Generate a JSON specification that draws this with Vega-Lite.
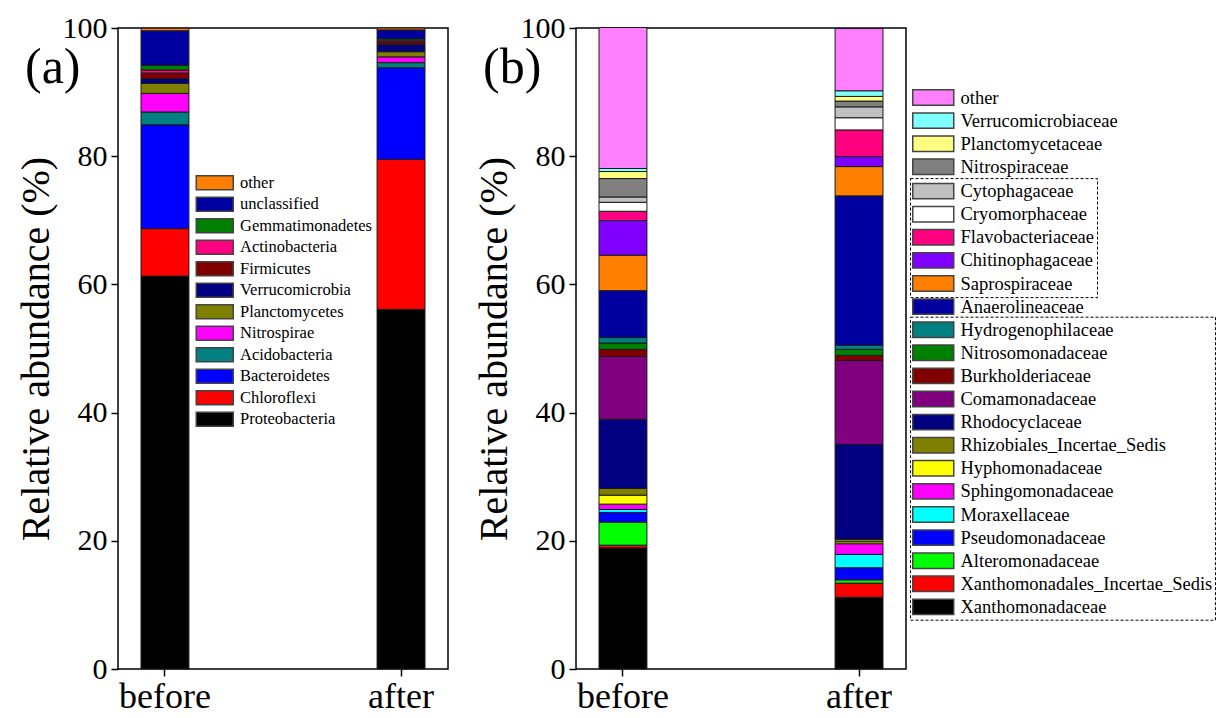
{
  "$schema": "https://vega.github.io/schema/vega-lite/v6.json",
  "background": "white",
  "padding": {"left": 15, "top": 12, "right": 2, "bottom": 2},
  "datasets": {
    "phyla": [
      {"sample": "before", "taxon": "Proteobacteria", "rank": 1, "value": 61.3},
      {"sample": "before", "taxon": "Chloroflexi", "rank": 2, "value": 7.4},
      {"sample": "before", "taxon": "Bacteroidetes", "rank": 3, "value": 16.2},
      {"sample": "before", "taxon": "Acidobacteria", "rank": 4, "value": 2.0},
      {"sample": "before", "taxon": "Nitrospirae", "rank": 5, "value": 2.9},
      {"sample": "before", "taxon": "Planctomycetes", "rank": 6, "value": 1.56},
      {"sample": "before", "taxon": "Verrucomicrobia", "rank": 7, "value": 0.73},
      {"sample": "before", "taxon": "Firmicutes", "rank": 8, "value": 0.88},
      {"sample": "before", "taxon": "Actinobacteria", "rank": 9, "value": 0.47},
      {"sample": "before", "taxon": "Gemmatimonadetes", "rank": 10, "value": 0.73},
      {"sample": "before", "taxon": "unclassified", "rank": 11, "value": 5.4},
      {"sample": "before", "taxon": "other", "rank": 12, "value": 0.4},
      {"sample": "after", "taxon": "Proteobacteria", "rank": 1, "value": 56.1},
      {"sample": "after", "taxon": "Chloroflexi", "rank": 2, "value": 23.4},
      {"sample": "after", "taxon": "Bacteroidetes", "rank": 3, "value": 14.3},
      {"sample": "after", "taxon": "Acidobacteria", "rank": 4, "value": 0.8},
      {"sample": "after", "taxon": "Nitrospirae", "rank": 5, "value": 0.9},
      {"sample": "after", "taxon": "Planctomycetes", "rank": 6, "value": 0.8},
      {"sample": "after", "taxon": "Verrucomicrobia", "rank": 7, "value": 1.1},
      {"sample": "after", "taxon": "Firmicutes", "rank": 8, "value": 0.4},
      {"sample": "after", "taxon": "Actinobacteria", "rank": 9, "value": 0.2},
      {"sample": "after", "taxon": "Gemmatimonadetes", "rank": 10, "value": 0.3},
      {"sample": "after", "taxon": "unclassified", "rank": 11, "value": 1.4},
      {"sample": "after", "taxon": "other", "rank": 12, "value": 0.3}
    ],
    "families": [
      {"sample": "before", "taxon": "Xanthomonadaceae", "grp": 4, "rank": 1, "value": 18.9},
      {"sample": "before", "taxon": "Xanthomonadales_Incertae_Sedis", "grp": 4, "rank": 2, "value": 0.42},
      {"sample": "before", "taxon": "Alteromonadaceae", "grp": 4, "rank": 3, "value": 3.6},
      {"sample": "before", "taxon": "Pseudomonadaceae", "grp": 4, "rank": 4, "value": 1.5},
      {"sample": "before", "taxon": "Moraxellaceae", "grp": 4, "rank": 5, "value": 0.47},
      {"sample": "before", "taxon": "Sphingomonadaceae", "grp": 4, "rank": 6, "value": 0.83},
      {"sample": "before", "taxon": "Hyphomonadaceae", "grp": 4, "rank": 7, "value": 1.4},
      {"sample": "before", "taxon": "Rhizobiales_Incertae_Sedis", "grp": 4, "rank": 8, "value": 1.04},
      {"sample": "before", "taxon": "Rhodocyclaceae", "grp": 4, "rank": 9, "value": 10.8},
      {"sample": "before", "taxon": "Comamonadaceae", "grp": 4, "rank": 10, "value": 9.8},
      {"sample": "before", "taxon": "Burkholderiaceae", "grp": 4, "rank": 11, "value": 1.1},
      {"sample": "before", "taxon": "Nitrosomonadaceae", "grp": 4, "rank": 12, "value": 1.0},
      {"sample": "before", "taxon": "Hydrogenophilaceae", "grp": 4, "rank": 13, "value": 0.83},
      {"sample": "before", "taxon": "Anaerolineaceae", "grp": 3, "rank": 14, "value": 7.3},
      {"sample": "before", "taxon": "Saprospiraceae", "grp": 2, "rank": 15, "value": 5.57},
      {"sample": "before", "taxon": "Chitinophagaceae", "grp": 2, "rank": 16, "value": 5.4},
      {"sample": "before", "taxon": "Flavobacteriaceae", "grp": 2, "rank": 17, "value": 1.45},
      {"sample": "before", "taxon": "Cryomorphaceae", "grp": 2, "rank": 18, "value": 1.4},
      {"sample": "before", "taxon": "Cytophagaceae", "grp": 2, "rank": 19, "value": 0.8},
      {"sample": "before", "taxon": "Nitrospiraceae", "grp": 1, "rank": 20, "value": 2.9},
      {"sample": "before", "taxon": "Planctomycetaceae", "grp": 1, "rank": 21, "value": 1.1},
      {"sample": "before", "taxon": "Verrucomicrobiaceae", "grp": 1, "rank": 22, "value": 0.47},
      {"sample": "before", "taxon": "other", "grp": 1, "rank": 23, "value": 22.0},
      {"sample": "after", "taxon": "Xanthomonadaceae", "grp": 4, "rank": 1, "value": 11.2},
      {"sample": "after", "taxon": "Xanthomonadales_Incertae_Sedis", "grp": 4, "rank": 2, "value": 2.2},
      {"sample": "after", "taxon": "Alteromonadaceae", "grp": 4, "rank": 3, "value": 0.5},
      {"sample": "after", "taxon": "Pseudomonadaceae", "grp": 4, "rank": 4, "value": 1.9},
      {"sample": "after", "taxon": "Moraxellaceae", "grp": 4, "rank": 5, "value": 2.08},
      {"sample": "after", "taxon": "Sphingomonadaceae", "grp": 4, "rank": 6, "value": 1.66},
      {"sample": "after", "taxon": "Hyphomonadaceae", "grp": 4, "rank": 7, "value": 0.3},
      {"sample": "after", "taxon": "Rhizobiales_Incertae_Sedis", "grp": 4, "rank": 8, "value": 0.4},
      {"sample": "after", "taxon": "Rhodocyclaceae", "grp": 4, "rank": 9, "value": 14.8},
      {"sample": "after", "taxon": "Comamonadaceae", "grp": 4, "rank": 10, "value": 13.1},
      {"sample": "after", "taxon": "Burkholderiaceae", "grp": 4, "rank": 11, "value": 0.78},
      {"sample": "after", "taxon": "Nitrosomonadaceae", "grp": 4, "rank": 12, "value": 0.94},
      {"sample": "after", "taxon": "Hydrogenophilaceae", "grp": 4, "rank": 13, "value": 0.62},
      {"sample": "after", "taxon": "Anaerolineaceae", "grp": 3, "rank": 14, "value": 23.3},
      {"sample": "after", "taxon": "Saprospiraceae", "grp": 2, "rank": 15, "value": 4.6},
      {"sample": "after", "taxon": "Chitinophagaceae", "grp": 2, "rank": 16, "value": 1.56},
      {"sample": "after", "taxon": "Flavobacteriaceae", "grp": 2, "rank": 17, "value": 4.16},
      {"sample": "after", "taxon": "Cryomorphaceae", "grp": 2, "rank": 18, "value": 1.9},
      {"sample": "after", "taxon": "Cytophagaceae", "grp": 2, "rank": 19, "value": 1.66},
      {"sample": "after", "taxon": "Nitrospiraceae", "grp": 1, "rank": 20, "value": 0.94},
      {"sample": "after", "taxon": "Planctomycetaceae", "grp": 1, "rank": 21, "value": 0.73},
      {"sample": "after", "taxon": "Verrucomicrobiaceae", "grp": 1, "rank": 22, "value": 0.88},
      {"sample": "after", "taxon": "other", "grp": 1, "rank": 23, "value": 9.7}
    ]
  },
  "hconcat": [
    {
      "width": 330,
      "height": 641,
      "title": {"text": "(a)", "anchor": "start", "frame": "group", "fontSize": 50, "fontWeight": "normal", "font": "Liberation Serif", "dx": -93, "dy": 84},
      "data": {"name": "phyla"},
      "transform": [{"stack": "value", "groupby": ["sample"], "sort": [{"field": "rank", "order": "ascending"}], "as": ["y0", "y1"]}],
      "mark": {"type": "bar", "stroke": "#1a1a1a", "strokeWidth": 1},
      "encoding": {
        "x": {"field": "sample", "type": "nominal", "sort": ["before", "after"], "scale": {"paddingInner": 0.797, "paddingOuter": 0.0975}, "axis": {"title": null, "labelAngle": 0, "labelFontSize": 36, "tickSize": 7, "labelPadding": 3, "domain": false}},
        "y": {"field": "y0", "type": "quantitative", "scale": {"domain": [0, 100], "nice": false}, "axis": {"title": "Relative abundance (%)", "values": [0, 20, 40, 60, 80, 100], "labelFontSize": 30, "titleFontSize": 40, "tickSize": 7, "labelPadding": 4, "titlePadding": 6, "domain": false}},
        "y2": {"field": "y1"},
        "color": {
          "field": "taxon", "type": "nominal",
          "scale": {
            "domain": ["other", "unclassified", "Gemmatimonadetes", "Actinobacteria", "Firmicutes", "Verrucomicrobia", "Planctomycetes", "Nitrospirae", "Acidobacteria", "Bacteroidetes", "Chloroflexi", "Proteobacteria"],
            "range": ["#FF8000", "#0000A0", "#008000", "#FF0080", "#800000", "#000080", "#808000", "#FF00FF", "#008080", "#0000FF", "#FF0000", "#000000"]
          },
          "legend": {"title": null, "orient": "none", "legendX": 77.5, "legendY": 144.7, "padding": 0, "symbolType": "M-1,-0.75L3,-0.75L3,0.75L-1,0.75Z", "symbolSize": 342, "labelFontSize": 16.5, "labelOffset": 24.5, "rowPadding": 1.5}
        }
      }
    },
    {
      "width": 330,
      "height": 641,
      "title": {"text": "(b)", "anchor": "start", "frame": "group", "fontSize": 50, "fontWeight": "normal", "font": "Liberation Serif", "dx": -93, "dy": 84},
      "data": {"name": "families"},
      "transform": [{"stack": "value", "groupby": ["sample"], "sort": [{"field": "rank", "order": "ascending"}], "as": ["y0", "y1"]}],
      "encoding": {
        "x": {"field": "sample", "type": "nominal", "sort": ["before", "after"], "scale": {"paddingInner": 0.797, "paddingOuter": 0.0975}, "axis": {"title": null, "labelAngle": 0, "labelFontSize": 36, "tickSize": 7, "labelPadding": 3, "domain": false}},
        "y": {"field": "y0", "type": "quantitative", "scale": {"domain": [0, 100], "nice": false}, "axis": {"title": "Relative abundance (%)", "values": [0, 20, 40, 60, 80, 100], "labelFontSize": 30, "titleFontSize": 40, "tickSize": 7, "labelPadding": 4, "titlePadding": 6, "domain": false}},
        "y2": {"field": "y1"}
      },
      "layer": [
        {
          "transform": [{"filter": "datum.grp == 1"}],
          "mark": {"type": "bar", "stroke": "#1a1a1a", "strokeWidth": 1},
          "encoding": {
            "color": {"field": "taxon", "type": "nominal",
              "scale": {"domain": ["other", "Verrucomicrobiaceae", "Planctomycetaceae", "Nitrospiraceae"], "range": ["#FF80FF", "#80FFFF", "#FFFF80", "#808080"]},
              "legend": {"title": null, "orient": "none", "legendX": 334, "legendY": 56.5, "padding": 2, "symbolType": "M-1,-0.75L3,-0.75L3,0.75L-1,0.75Z", "symbolSize": 420, "labelFontSize": 18.5, "labelOffset": 26.5, "rowPadding": 1.1, "labelLimit": 400}}
          }
        },
        {
          "transform": [{"filter": "datum.grp == 2"}],
          "mark": {"type": "bar", "stroke": "#1a1a1a", "strokeWidth": 1},
          "encoding": {
            "color": {"field": "taxon", "type": "nominal",
              "scale": {"domain": ["Cytophagaceae", "Cryomorphaceae", "Flavobacteriaceae", "Chitinophagaceae", "Saprospiraceae"], "range": ["#C0C0C0", "#FFFFFF", "#FF0080", "#8000FF", "#FF8000"]},
              "legend": {"title": null, "orient": "none", "legendX": 334, "legendY": 150.1, "padding": 2, "strokeColor": "#000000", "encode": {"legend": {"update": {"strokeDash": {"value": [3, 2]}, "strokeWidth": {"value": 1}}}}, "symbolType": "M-1,-0.75L3,-0.75L3,0.75L-1,0.75Z", "symbolSize": 420, "labelFontSize": 18.5, "labelOffset": 26.5, "rowPadding": 1.1, "labelLimit": 400}}
          }
        },
        {
          "transform": [{"filter": "datum.grp == 3"}],
          "mark": {"type": "bar", "stroke": "#1a1a1a", "strokeWidth": 1},
          "encoding": {
            "color": {"field": "taxon", "type": "nominal",
              "scale": {"domain": ["Anaerolineaceae"], "range": ["#0000A0"]},
              "legend": {"title": null, "orient": "none", "legendX": 334, "legendY": 265.6, "padding": 2, "symbolType": "M-1,-0.75L3,-0.75L3,0.75L-1,0.75Z", "symbolSize": 420, "labelFontSize": 18.5, "labelOffset": 26.5, "rowPadding": 1.1, "labelLimit": 400}}
          }
        },
        {
          "transform": [{"filter": "datum.grp == 4"}],
          "mark": {"type": "bar", "stroke": "#1a1a1a", "strokeWidth": 1},
          "encoding": {
            "color": {"field": "taxon", "type": "nominal",
              "scale": {"domain": ["Hydrogenophilaceae", "Nitrosomonadaceae", "Burkholderiaceae", "Comamonadaceae", "Rhodocyclaceae", "Rhizobiales_Incertae_Sedis", "Hyphomonadaceae", "Sphingomonadaceae", "Moraxellaceae", "Pseudomonadaceae", "Alteromonadaceae", "Xanthomonadales_Incertae_Sedis", "Xanthomonadaceae"], "range": ["#008080", "#008000", "#800000", "#800080", "#000080", "#808000", "#FFFF00", "#FF00FF", "#00FFFF", "#0000FF", "#00FF00", "#FF0000", "#000000"]},
              "legend": {"title": null, "orient": "none", "legendX": 334, "legendY": 288.7, "padding": 2, "strokeColor": "#000000", "encode": {"legend": {"update": {"strokeDash": {"value": [3, 2]}, "strokeWidth": {"value": 1}}}}, "symbolType": "M-1,-0.75L3,-0.75L3,0.75L-1,0.75Z", "symbolSize": 420, "labelFontSize": 18.5, "labelOffset": 26.5, "rowPadding": 1.1, "labelLimit": 400}}
          }
        }
      ],
      "resolve": {"scale": {"color": "independent"}, "legend": {"color": "independent"}}
    }
  ],
  "spacing": 128,
  "bounds": "flush",
  "resolve": {"scale": {"color": "independent"}, "legend": {"color": "independent"}},
  "config": {
    "font": "Liberation Serif",
    "view": {"stroke": "#000000", "strokeWidth": 1.5},
    "axis": {"labelFont": "Liberation Serif", "titleFont": "Liberation Serif", "titleFontWeight": "normal", "labelColor": "#000000", "titleColor": "#000000", "tickColor": "#000000", "tickWidth": 1.5, "domainColor": "#000000", "grid": false},
    "legend": {"labelFont": "Liberation Serif", "labelColor": "#000000", "symbolStrokeColor": "#444444", "symbolStrokeWidth": 1.5, "symbolOpacity": 1},
    "title": {"color": "#000000"}
  }
}
